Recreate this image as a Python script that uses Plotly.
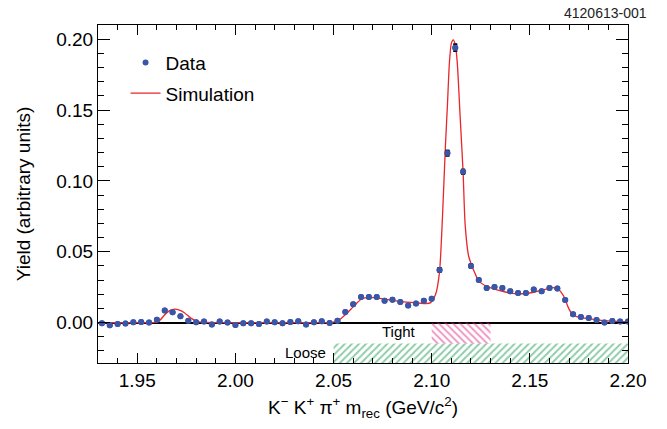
import plotly.graph_objects as go

# ---- data ----
bin_centers = [1.932, 1.936, 1.940, 1.944, 1.948, 1.952, 1.956, 1.960, 1.964, 1.968,
               1.972, 1.976, 1.980, 1.984, 1.988, 1.992, 1.996, 2.000, 2.004, 2.008,
               2.012, 2.016, 2.020, 2.024, 2.028, 2.032, 2.036, 2.040, 2.044, 2.048,
               2.052, 2.056, 2.060, 2.064, 2.068, 2.072, 2.076, 2.080, 2.084, 2.088,
               2.092, 2.096, 2.100, 2.104, 2.108, 2.112, 2.116, 2.120, 2.124, 2.128,
               2.132, 2.136, 2.140, 2.144, 2.148, 2.152, 2.156, 2.160, 2.164, 2.168,
               2.172, 2.176, 2.180, 2.184, 2.188, 2.192, 2.196, 2.200]
data_yield = [-0.0005, -0.0019, -0.0010, -0.0007, 0.0002, 0.0005, 0.0000, 0.0020, 0.0085, 0.0073,
              0.0045, 0.0014, 0.0002, 0.0007, -0.0014, 0.0007, 0.0000, -0.0016, -0.0005, -0.0005,
              -0.0010, 0.0007, 0.0002, -0.0005, 0.0005, 0.0010, -0.0014, 0.0002, 0.0010, -0.0002,
              0.0014, 0.0075, 0.0130, 0.0180, 0.0180, 0.0180, 0.0155, 0.0162, 0.0146, 0.0120,
              0.0134, 0.0155, 0.0168, 0.0372, 0.1196, 0.1940, 0.1065, 0.0400, 0.0301, 0.0245,
              0.0252, 0.0245, 0.0221, 0.0209, 0.0209, 0.0233, 0.0221, 0.0245, 0.0240, 0.0160,
              0.0059, 0.0040, 0.0033, 0.0019, 0.0000, 0.0012, 0.0007, 0.0007]
data_err = [0.0007] * 31 + [0.0009] * 12 + [0.0015, 0.0020, 0.0025, 0.0017, 0.0012, 0.0010] + \
           [0.0009] * 12 + [0.0007] * 7

sim_x = [1.930, 1.950, 1.958, 1.961, 1.964, 1.9665, 1.969, 1.9715, 1.974, 1.9775, 1.981, 1.985,
         2.000, 2.020, 2.045, 2.050, 2.053, 2.056, 2.0595, 2.062, 2.0647, 2.068, 2.072, 2.078,
         2.085, 2.0935, 2.097, 2.0995, 2.102, 2.104, 2.1055, 2.107, 2.108, 2.109, 2.110, 2.111,
         2.112, 2.113, 2.1145, 2.116, 2.117, 2.1188, 2.1205, 2.122, 2.1236, 2.1273, 2.1324,
         2.1375, 2.1425, 2.1476, 2.1527, 2.1578, 2.162, 2.1645, 2.1671, 2.1696, 2.1713, 2.1738,
         2.1797, 2.1865, 2.1949, 2.200]
sim_y = [0.0, 0.0, 0.0, 0.001, 0.0055, 0.0085, 0.0095, 0.0088, 0.0070, 0.0030, 0.0007, 0.0001,
         0.0, 0.0, 0.0, 0.0003, 0.0020, 0.0055, 0.0104, 0.0140, 0.0170, 0.0178, 0.0175, 0.0162,
         0.0148, 0.0138, 0.0134, 0.0141, 0.0200, 0.0360, 0.0750, 0.1250, 0.1530, 0.1830, 0.1970,
         0.1995, 0.1960, 0.1840, 0.1450, 0.1060, 0.0700, 0.0470, 0.0400, 0.0350, 0.0300, 0.0260,
         0.0235, 0.0216, 0.0205, 0.0205, 0.0216, 0.0235, 0.0247, 0.0235, 0.0190, 0.0106, 0.0066,
         0.0042, 0.0028, 0.0016, 0.0009, 0.0007]

tight_range = [2.10, 2.13]
tight_y = [0.0, -0.0148]
loose_range = [2.05, 2.20]
loose_y = [-0.0148, -0.0285]

x_ticks = [1.95, 2.00, 2.05, 2.10, 2.15, 2.20]
y_ticks = [0.00, 0.05, 0.10, 0.15, 0.20]

FONT = "Liberation Sans, Arial, Helvetica, sans-serif"

fig = go.Figure()

# hatched selection regions
fig.add_trace(go.Scatter(
    x=[tight_range[0], tight_range[1], tight_range[1], tight_range[0], tight_range[0]],
    y=[tight_y[0], tight_y[0], tight_y[1], tight_y[1], tight_y[0]],
    mode="lines", line=dict(width=0), fill="toself", fillcolor="rgba(0,0,0,0)",
    fillpattern=dict(shape="\\", fgcolor="#e0308c", bgcolor="rgba(255,255,255,0)", size=5, solidity=0.4),
    showlegend=False, hoverinfo="skip"))
fig.add_trace(go.Scatter(
    x=[loose_range[0], loose_range[1], loose_range[1], loose_range[0], loose_range[0]],
    y=[loose_y[0], loose_y[0], loose_y[1], loose_y[1], loose_y[0]],
    mode="lines", line=dict(width=0), fill="toself", fillcolor="rgba(0,0,0,0)",
    fillpattern=dict(shape="/", fgcolor="#1f9a50", bgcolor="rgba(255,255,255,0)", size=5, solidity=0.4),
    showlegend=False, hoverinfo="skip"))

fig.add_trace(go.Scatter(
    x=bin_centers, y=data_yield, mode="markers", name="Data",
    marker=dict(color="#3a56a8", size=6),
    error_y=dict(type="data", array=data_err, color="black", thickness=1.2, width=2),
    legendgroup="a"))
fig.add_trace(go.Scatter(
    x=sim_x, y=sim_y, mode="lines", name="Simulation",
    line=dict(color="#e8262b", width=1.3, shape="spline", smoothing=0.6),
    legendgroup="b"))
# redraw data on top of the curve
fig.add_trace(go.Scatter(
    x=bin_centers, y=data_yield, mode="markers", showlegend=False,
    marker=dict(color="#3a56a8", size=6),
    error_y=dict(type="data", array=data_err, color="black", thickness=1.2, width=2),
    hoverinfo="skip"))

axis_common = dict(showgrid=False, showline=True, linecolor="black", linewidth=1,
                   mirror="ticks", ticks="inside", tickcolor="black",
                   tickfont=dict(family=FONT, size=19, color="black"))

fig.update_xaxes(range=[1.93, 2.20], tickvals=x_ticks, ticktext=[f"{v:.2f}" for v in x_ticks],
                 ticklen=10, zeroline=False,
                 minor=dict(dtick=0.01, tick0=1.93, ticklen=5, ticks="inside", tickcolor="black"),
                 title=dict(text="K<sup>−</sup> K<sup>+</sup> π<sup>+</sup> m<sub>rec</sub> (GeV/c<sup>2</sup>)",
                            font=dict(family=FONT, size=19, color="black"), standoff=10),
                 **axis_common)
fig.update_yaxes(range=[-0.0285, 0.21], tickvals=y_ticks, ticktext=[f"{v:.2f}" for v in y_ticks],
                 ticklen=12, zeroline=True, zerolinecolor="black", zerolinewidth=1.6,
                 minor=dict(dtick=0.01, tick0=0, ticklen=6, ticks="inside", tickcolor="black"),
                 title=dict(text="Yield (arbitrary units)", font=dict(family=FONT, size=19, color="black"),
                            standoff=20),
                 **axis_common)

fig.add_annotation(x=2.0835, y=-0.0062, xref="x", yref="y", text="Tight", showarrow=False,
                   font=dict(family=FONT, size=15, color="black"))
fig.add_annotation(x=2.0355, y=-0.0212, xref="x", yref="y", text="Loose", showarrow=False,
                   font=dict(family=FONT, size=15, color="black"))
fig.add_annotation(x=1.04, y=1.036, xref="paper", yref="paper", xanchor="right", yanchor="middle",
                   text="4120613-001", showarrow=False,
                   font=dict(family=FONT, size=14, color="#222222"))

fig.update_layout(
    width=667, height=429,
    margin=dict(l=98, r=39, t=25, b=66),
    paper_bgcolor="white", plot_bgcolor="white",
    font=dict(family=FONT, color="black"),
    legend=dict(x=0.052, y=0.945, xanchor="left", yanchor="top", bgcolor="rgba(0,0,0,0)",
                font=dict(family=FONT, size=19, color="black"), traceorder="grouped",
                tracegroupgap=3, itemwidth=30),
)

fig.write_html("out.html")
